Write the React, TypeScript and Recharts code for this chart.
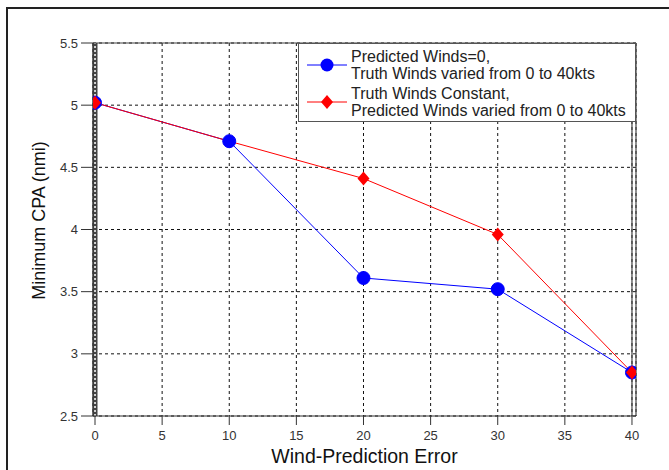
import { LineChart, Line, XAxis, YAxis, CartesianGrid, ReferenceLine, Legend } from 'recharts';

const windError = [0, 10, 20, 30, 40];
const predictedZeroCpa = [5.02, 4.71, 3.61, 3.52, 2.85];
const truthConstantCpa = [5.02, 4.71, 4.41, 3.96, 2.85];
const xTicks = [0, 5, 10, 15, 20, 25, 30, 35, 40];
const yTicks = [2.5, 3, 3.5, 4, 4.5, 5, 5.5];
const seriesNames = [
  ['Predicted Winds=0,', 'Truth Winds varied from 0 to 40kts'],
  ['Truth Winds Constant,', 'Predicted Winds varied from 0 to 40kts'],
];

const data = windError.map((x, i) => ({
  x,
  predictedZero: predictedZeroCpa[i],
  truthConstant: truthConstantCpa[i],
}));

const FONT = 'Arial, "Liberation Sans", sans-serif';
const BLUE = '#0000ff';
const RED = '#ff0000';

const Circle = ({ cx, cy }: any) => <circle cx={cx} cy={cy} r={6.5} fill={BLUE} stroke={BLUE} />;

// red diamond; the one at 10 sits under the blue circle in the original
const Diamond = ({ cx, cy, index }: any) => {
  if (index === 1) return <g />;
  return <polygon points={`${cx},${cy - 7} ${cx + 6},${cy} ${cx},${cy + 7} ${cx - 6},${cy}`} fill={RED} />;
};

const LegendBox = () => (
  <div
    style={{
      width: 338,
      height: 79,
      border: '1px solid #555',
      background: '#fff',
      boxSizing: 'border-box',
      fontFamily: FONT,
      fontSize: 16,
      color: '#222',
      lineHeight: '17px',
    }}
  >
    {seriesNames.map((lines, i) => (
      <div key={i} style={{ display: 'flex', alignItems: 'center', marginTop: i === 0 ? 4 : 3 }}>
        <svg width={52} height={20} style={{ flex: 'none' }}>
          <line x1={8} x2={48} y1={10} y2={10} stroke={i === 0 ? BLUE : RED} strokeWidth={1} />
          {i === 0 ? (
            <circle cx={28} cy={10} r={6.5} fill={BLUE} />
          ) : (
            <polygon points="28,3 34,10 28,17 22,10" fill={RED} />
          )}
        </svg>
        <div>
          <div>{lines[0]}</div>
          <div>{lines[1]}</div>
        </div>
      </div>
    ))}
  </div>
);

export default function App() {
  return (
    <div style={{ position: 'absolute', left: 0, top: 0, width: 669, height: 470, background: '#fff' }}>
      {/* outer figure frame, only top and left edges are visible */}
      <div
        style={{
          position: 'absolute',
          left: 6,
          top: 7,
          width: 669,
          height: 470,
          borderTop: '2px solid #222',
          borderLeft: '2px solid #222',
        }}
      />
      <LineChart
        width={669}
        height={470}
        data={data}
        margin={{ top: 43, right: 33, left: 0, bottom: 24 }}
        style={{ position: 'absolute', left: 0, top: 0 }}
      >
        <CartesianGrid stroke="#111" strokeDasharray="3 3" />
        <XAxis
          type="number"
          dataKey="x"
          domain={[-0.15, 40.3]}
          ticks={xTicks}
          allowDataOverflow
          height={30}
          tickSize={9}
          tickMargin={6}
          tick={{ fontSize: 13, fill: '#333', fontFamily: FONT }}
          axisLine={{ stroke: '#333' }}
          tickLine={{ stroke: '#333' }}
          label={{
            value: 'Wind-Prediction Error',
            position: 'insideBottom',
            offset: -17,
            fill: '#111',
            style: { fontSize: 19.5, fontFamily: FONT },
          }}
        />
        <YAxis
          type="number"
          domain={[2.5, 5.5]}
          ticks={yTicks}
          width={93}
          tickSize={12}
          tickMargin={3}
          tick={{ fontSize: 13, fill: '#333', fontFamily: FONT }}
          axisLine={{ stroke: '#333' }}
          tickLine={{ stroke: '#333' }}
          label={{
            value: 'Minimum CPA (nmi)',
            angle: -90,
            position: 'insideLeft',
            offset: 26,
            dx: 13,
            dy: -9,
            fill: '#111',
            style: { fontSize: 18, fontFamily: FONT, textAnchor: 'middle' },
          }}
        />
        <ReferenceLine x={0} stroke="#444" strokeWidth={5} />
        <ReferenceLine x={0} stroke="#fff" strokeWidth={1.5} strokeDasharray="2 2" />
        <ReferenceLine x={40} stroke="#444" strokeWidth={1.2} />
        <ReferenceLine x={40.3} stroke="#444" strokeWidth={1.2} />
        <ReferenceLine y={5.5} stroke="#444" strokeWidth={1.2} />
        <Legend
          layout="vertical"
          align="center"
          verticalAlign="middle"
          content={() => <LegendBox />}
          wrapperStyle={{ left: 298, top: 43, width: 338, height: 79 }}
        />
        <Line
          type="linear"
          dataKey="predictedZero"
          stroke={BLUE}
          strokeWidth={1}
          dot={<Circle />}
          activeDot={false}
          isAnimationActive={false}
        />
        <Line
          type="linear"
          dataKey="truthConstant"
          stroke={RED}
          strokeWidth={1}
          dot={<Diamond />}
          activeDot={false}
          isAnimationActive={false}
        />
      </LineChart>
    </div>
  );
}
